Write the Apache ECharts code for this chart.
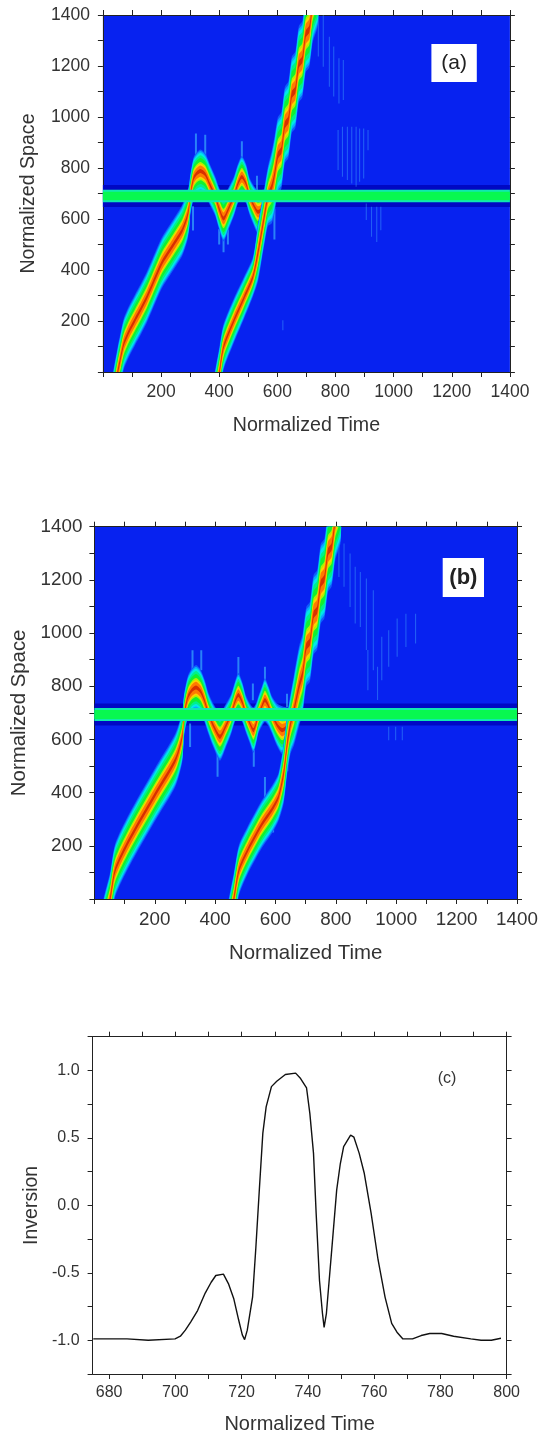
<!DOCTYPE html>
<html><head><meta charset="utf-8">
<style>html,body{margin:0;padding:0;background:#fff}#c{width:539px;height:1432px;filter:blur(0.4px)}</style>
<script src="https://cdn.jsdelivr.net/npm/echarts@6/dist/echarts.min.js"></script>
</head><body><div id="c"></div>
<script>
// ---- Panel (a): ridge lines [time], [space], [pulse extent in space units]
const aR1T=[15,35,51,60,72,90,110,150,202,240,273,290,297,300,312,322,336,352,368,386,400,415,432,451,465,478,492,504,518,533,550,565,580,586];
const aR1S=[-250,-100,0,50,111,160,203,290,426,495,556,610,650,690,760,778,788,775,735,690,640,602,640,690,740,765,740,690,655,628,640,670,700,710];
const aR1W=[200,200,200,200,200,200,200,200,200,200,200,195,180,160,165,165,170,165,160,155,165,180,165,155,155,165,155,145,155,170,150,100,40,10];
const aR2T=[365,385,401,415,451,485,516,533,547,557,568,581,590,602,614,626,638,650,662,674,686,698,710,722,740];
const aR2S=[-250,-100,0,98,203,290,373,465,556,622,690,726,771,850,870,969,989,1088,1107,1207,1226,1326,1345,1444,1513];
const aR2W=[200,200,200,180,175,165,155,225,225,225,235,285,300,300,300,300,300,300,300,300,300,300,300,300,300];
const aBandS=690;
// faint vertical streaks: time, low space, high space
const aStreakT=[741,758,779,794,812,827,809,824,841,856,871,883,897,912,906,924,942,956,619];
const aStreakLo=[1237,1197,1119,1080,1053,1067,792,766,753,739,726,746,759,870,596,530,510,556,164];
const aStreakHi=[1400,1400,1315,1276,1230,1224,949,962,962,962,962,955,955,949,661,648,648,648,203];
const aSpikeT=[320,352,478,310,400,430,415,530,590];
const aSpikeLo=[800,800,770,555,500,500,470,700,520];
const aSpikeHi=[935,930,905,650,560,560,530,770,640];
// ---- Panel (b)
const bR1T=[10,30,52,69,115,200,268,291,297,310,323,337,352,365,377,395,416,435,453,465,477,490,502,515,527,537,544,555,565,577,587,605,622,640,656,662];
const bR1S=[-250,-100,0,109,221,391,522,610,691,760,785,795,780,745,700,650,610,650,695,740,767,740,695,660,635,665,695,725,748,725,695,655,635,650,695,705];
const bR1W=[200,200,200,200,200,200,200,190,160,160,165,170,165,160,155,165,180,165,150,150,165,150,140,150,170,150,140,150,165,150,140,160,180,140,50,10];
const bR2T=[420,445,462,479,508,553,590,610,627,639,650,661,678,690,702,714,726,738,750,762,774,786,798,816];
const bR2S=[-250,-100,0,109,184,278,340,384,472,585,660,710,800,849,949,968,1068,1087,1186,1206,1305,1325,1424,1493];
const bR2W=[200,200,200,190,180,180,180,180,225,225,225,265,300,300,300,300,300,300,300,300,300,300,300,300];
const bBandS=694;
const bStreakT=[810,827,847,864,881,901,924,906,938,952,975,1003,1032,1064,975,998,1020];
const bStreakLo=[1211,1174,1098,1036,1023,936,860,785,748,823,873,911,948,961,597,597,597];
const bStreakHi=[1387,1337,1299,1249,1230,1205,1161,936,873,986,1011,1055,1073,1073,648,648,648];
const bSpikeT=[325,354,477,525,565,638,317,408,528,639,565,592];
const bSpikeLo=[860,860,835,747,823,722,572,460,497,480,359,250];
const bSpikeHi=[935,935,910,810,873,772,660,560,560,590,459,330];
// ---- Panel (c)
const cTime=[675.2,685.4,686,691.8,692.4,699.9,701.5,703,704.6,706.7,709,710.8,712.2,714.5,716,717.6,719.1,720.2,720.9,721.7,723.3,724.3,725.4,726.4,727.4,729,730.6,733.2,736.3,737.8,739.6,740.6,741.7,742.5,743.5,744.4,744.9,745.6,747.2,748.7,749.8,750.8,752.9,753.9,755.5,757,759.1,761.2,763.3,765.3,766.9,768.7,771.6,774.2,776.8,780.4,784,789.2,792.3,795.4,798.3];
const cInversion=[-0.99,-0.99,-1,-1,-0.995,-0.99,-0.97,-0.925,-0.865,-0.78,-0.65,-0.57,-0.52,-0.51,-0.58,-0.69,-0.85,-0.96,-0.995,-0.925,-0.68,-0.31,0.14,0.535,0.73,0.88,0.92,0.97,0.98,0.94,0.87,0.68,0.385,-0.06,-0.555,-0.8,-0.905,-0.8,-0.33,0.115,0.31,0.435,0.52,0.505,0.385,0.24,-0.06,-0.405,-0.68,-0.875,-0.94,-0.99,-0.99,-0.965,-0.95,-0.95,-0.97,-0.99,-1,-1,-0.985];
const timeTicksC=[680,700,720,740,760,780,800];
const timeMinorC=[680,690,700,710,720,730,740,750,760,770,780,790,800];
const invLabels=[-1,-0.5,0,0.5,1];
const invTicks=[-1.25,-1,-0.75,-0.5,-0.25,0,0.25,0.5,0.75,1,1.25];

const BLUE='#0722f0',AXIS='#222',TXT='#333',FONT='"Liberation Sans",Arial,sans-serif';
const levels=[[1,'#0f5cfb'],[.92,'#08a8ff'],[.84,'#00e8e8'],[.73,'#00f08a'],[.6,'#10f030'],[.42,'#b0f000'],[.34,'#ffd000'],[.26,'#ff7a00'],[.09,'#d83000']];

function ridge(T,S,W,xi,yi){
  return {type:'custom',xAxisIndex:xi,yAxisIndex:yi,coordinateSystem:'cartesian2d',clip:true,silent:true,z:3,
    encode:{x:0,y:1},data:T.map((t,i)=>[t,S[i],W[i]]),
    renderItem(p,api){
      if(p.dataIndex!==0) return;
      const children=levels.map(([k,col])=>{
        const up=T.map((t,i)=>api.coord([t,S[i]+W[i]*k/2]));
        const dn=T.map((t,i)=>api.coord([t,S[i]-W[i]*k/2])).reverse();
        return {type:'polygon',shape:{points:up.concat(dn),smooth:0.25},style:{fill:col}};
      });
      return {type:'group',children};
    }};
}
function gapped(T,Lo,Hi){const d=[];T.forEach((t,i)=>{d.push([t,Lo[i]],[t,Hi[i]],[t,null]);});return d;}
function streaks(T,Lo,Hi,xi,yi,color,width,z){
  return {type:'line',xAxisIndex:xi,yAxisIndex:yi,data:gapped(T,Lo,Hi),symbol:'none',silent:true,z,connectNulls:false,
    lineStyle:{color,width}};
}
function band(s,xi,yi,color,width,z){
  return {type:'line',xAxisIndex:xi,yAxisIndex:yi,data:[[0,s],[1400,s]],symbol:'none',silent:true,z,lineStyle:{color,width}};
}
const hide0=v=>v===0?'':String(v);
function axisBase(fs){return {
  axisLine:{show:true,onZero:false,lineStyle:{color:AXIS,width:1}},
  splitLine:{show:false},
  axisTick:{show:true,length:5,lineStyle:{color:AXIS,width:1}},
  axisLabel:{color:TXT,fontFamily:FONT,fontSize:fs},
  nameTextStyle:{color:TXT,fontFamily:FONT}
};}
function spaceAxes(g,fs,nameSize,xGap,yGap,labM,yLabM){
  const minor={show:true,splitNumber:2,length:5,lineStyle:{color:AXIS,width:1}};
  const bx=axisBase(fs),by=axisBase(fs);
  return {
   x:[
    Object.assign({},bx,{type:'value',gridIndex:g,position:'bottom',min:0,max:1400,interval:200,minorTick:minor,
      axisLabel:Object.assign({},bx.axisLabel,{formatter:hide0,margin:labM}),
      name:'Normalized Time',nameLocation:'middle',nameGap:xGap,nameTextStyle:Object.assign({},bx.nameTextStyle,{fontSize:nameSize})}),
    Object.assign({},bx,{type:'value',gridIndex:g,position:'top',min:0,max:1400,interval:200,minorTick:minor,axisLabel:{show:false}})
   ],
   y:[
    Object.assign({},by,{type:'value',gridIndex:g,position:'left',min:0,max:1400,interval:200,minorTick:minor,
      axisLabel:Object.assign({},by.axisLabel,{formatter:hide0,margin:yLabM}),
      name:'Normalized Space',nameLocation:'middle',nameGap:yGap,nameTextStyle:Object.assign({},by.nameTextStyle,{fontSize:nameSize})}),
    Object.assign({},by,{type:'value',gridIndex:g,position:'right',min:0,max:1400,interval:200,minorTick:minor,axisLabel:{show:false}})
   ]};
}
const A=spaceAxes(0,17.5,19.6,44,64,11,13),B=spaceAxes(1,18.8,20.4,44,65.5,11,12);
const cx=axisBase(16),cy=axisBase(16);
const cXAxes=[
  Object.assign({},cx,{type:'value',gridIndex:2,position:'bottom',min:675,max:800,
    axisTick:Object.assign({},cx.axisTick,{customValues:timeMinorC}),
    axisLabel:Object.assign({},cx.axisLabel,{customValues:timeTicksC,margin:11}),
    name:'Normalized Time',nameLocation:'middle',nameGap:40,nameTextStyle:Object.assign({},cx.nameTextStyle,{fontSize:20})}),
  Object.assign({},cx,{type:'value',gridIndex:2,position:'top',min:675,max:800,
    axisTick:Object.assign({},cx.axisTick,{customValues:timeMinorC}),axisLabel:{show:false}})
];
const cYAxes=[
  Object.assign({},cy,{type:'value',gridIndex:2,position:'left',min:-1.25,max:1.25,
    axisTick:Object.assign({},cy.axisTick,{customValues:invTicks}),
    axisLabel:Object.assign({},cy.axisLabel,{customValues:invLabels,margin:13,formatter:v=>Number(v).toFixed(1)}),
    name:'Inversion',nameLocation:'middle',nameGap:46.5,nameTextStyle:Object.assign({},cy.nameTextStyle,{fontSize:19.5})}),
  Object.assign({},cy,{type:'value',gridIndex:2,position:'right',min:-1.25,max:1.25,
    axisTick:Object.assign({},cy.axisTick,{customValues:invTicks}),axisLabel:{show:false}})
];
function tag(x,y,w,h,text,fs,weight){
  return [{type:'rect',x,y,z:20,shape:{width:w,height:h},style:{fill:'#fff'},silent:true},
    {type:'text',x:x+w/2,y:y+h/2,z:21,silent:true,style:{text,fill:'#222',font:`${weight} ${fs}px ${FONT}`,textAlign:'center',textVerticalAlign:'middle'}}];
}
const chart=echarts.init(document.getElementById('c'),null,{renderer:'canvas'});
chart.setOption({
  backgroundColor:'#fff',animation:false,
  grid:[
    {left:102.9,top:15,width:407,height:357,show:true,backgroundColor:BLUE,borderWidth:0,outerBoundsMode:'none'},
    {left:94.4,top:526.7,width:422.6,height:372.3,show:true,backgroundColor:BLUE,borderWidth:0,outerBoundsMode:'none'},
    {left:92.6,top:1036.7,width:414,height:337.3,show:false,outerBoundsMode:'none'}
  ],
  xAxis:[...A.x,...B.x,...cXAxes],
  yAxis:[...A.y,...B.y,...cYAxes],
  series:[
    band(aBandS,0,0,'#0008c4',22,1),
    streaks(aStreakT,aStreakLo,aStreakHi,0,0,'rgba(80,200,255,0.36)',1.1,2),
    streaks(aSpikeT,aSpikeLo,aSpikeHi,0,0,'rgba(70,210,255,0.55)',2,2),
    ridge(aR1T,aR1S,aR1W,0,0),
    ridge(aR2T,aR2S,aR2W,0,0),
    band(aBandS,0,0,'#10e8b0',12.5,6),
    band(aBandS,0,0,'#08f850',8.5,7),
    band(bBandS,2,2,'#0008c4',22,1),
    streaks(bStreakT,bStreakLo,bStreakHi,2,2,'rgba(80,200,255,0.36)',1.1,2),
    streaks(bSpikeT,bSpikeLo,bSpikeHi,2,2,'rgba(70,210,255,0.55)',2,2),
    ridge(bR1T,bR1S,bR1W,2,2),
    ridge(bR2T,bR2S,bR2W,2,2),
    band(bBandS,2,2,'#10e8b0',13,6),
    band(bBandS,2,2,'#08f850',9,7),
    {type:'line',xAxisIndex:4,yAxisIndex:4,data:cTime.map((t,i)=>[t,cInversion[i]]),symbol:'none',silent:true,
      lineStyle:{color:'#111',width:1.4}}
  ],
  graphic:[
    ...tag(431.4,44,45.4,38,'(a)',21,'normal'),
    ...tag(442.7,558,41.3,39,'(b)',22,'bold'),
    {type:'text',x:447,y:1079,z:21,silent:true,style:{text:'(c)',fill:'#333',font:`16px ${FONT}`,textAlign:'center',textVerticalAlign:'middle'}}
  ]
});
</script></body></html>
